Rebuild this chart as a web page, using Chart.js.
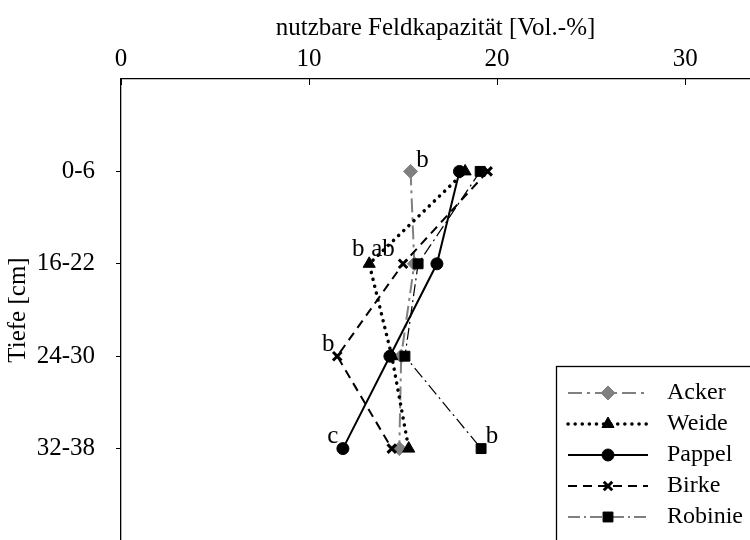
<!DOCTYPE html>
<html>
<head>
<meta charset="utf-8">
<script src="https://cdn.jsdelivr.net/npm/chart.js@4/dist/chart.umd.min.js"></script>
<style>
html,body{margin:0;padding:0;background:#fff;overflow:hidden;}
#wrap{width:750px;height:540px;overflow:hidden;}
</style>
</head>
<body>
<div id="wrap"><canvas id="c" width="750" height="541"></canvas></div>
<script>
// Tiefenstufen (y) und nutzbare Feldkapazität je Nutzung (x)
const DEPTHS = ['0-6','16-22','24-30','32-38'];
const X_TICKS = [0,10,20,30];
const ACKER   = [15.4, 15.6, 14.9, 14.8];
const WEIDE   = [18.3, 13.2, 14.4, 15.3];
const PAPPEL  = [18.0, 16.8, 14.3, 11.8];
const BIRKE   = [19.5, 15.0, 11.5, 14.4];
const ROBINIE = [19.1, 15.8, 15.1, 19.15];
// Signifikanzbuchstaben: [Reihe, Tiefe, Text]
const LETTERS = [
  ['Acker',0,'b'], ['Weide',1,'b'], ['Birke',1,'ab'],
  ['Birke',2,'b'], ['Pappel',3,'c'], ['Robinie',3,'b'],
];

const FONT = 'Liberation Serif, Times New Roman, serif';
Chart.defaults.font.family = FONT;
Chart.defaults.color = '#000';

const pts = arr => arr.map((v,i)=>({x:v,y:i+1}));

function ds(label,data,color,dash,width,style,radius,order,extra) {
  return Object.assign({
    label, data:pts(data), borderColor:color, backgroundColor:color,
    borderDash:dash, borderWidth:width, pointStyle:style, pointRadius:radius,
    pointBackgroundColor:color, pointBorderColor:color, pointBorderWidth:1,
    tension:0, fill:false, order
  }, extra||{});
}

const datasets = [
  ds('Acker',ACKER,'#808080',[14,5,3,5],2,'rectRot',7,5),
  ds('Weide',WEIDE,'#000',[0.1,7],3.5,'triangle',7,4,{borderCapStyle:'round'}),
  ds('Pappel',PAPPEL,'#000',[],2,'circle',6,3),
  ds('Birke',BIRKE,'#000',[9,6],2,'crossRot',6,2,{pointBorderWidth:3}),
  ds('Robinie',ROBINIE,'#000',[12,4,2,4],1.2,'rect',7,1),
];

// Buchstaben, Tickstriche innen an der oberen Achse, Legendenkasten
const offs = {'Acker0':[12,-11],'Weide1':[-11,-14],'Birke1':[-20,-14],'Birke2':[-9,-12],'Pappel3':[-10,-12],'Robinie3':[11,-12]};
const extras = {
  id:'extras',
  afterDraw(chart){
    const ctx=chart.ctx, xs=chart.scales.x, ys=chart.scales.y, a=chart.chartArea;
    ctx.save();
    // ticks an x-Achse nach innen
    ctx.strokeStyle='#000'; ctx.lineWidth=1;
    X_TICKS.forEach(v=>{const px=Math.round(xs.getPixelForValue(v))+0.5;
      ctx.beginPath(); ctx.moveTo(px,a.top); ctx.lineTo(px,a.top+6); ctx.stroke();});
    // Buchstaben
    ctx.font='25px '+FONT; ctx.fillStyle='#000'; ctx.textAlign='center'; ctx.textBaseline='middle';
    LETTERS.forEach(([name,i,t])=>{
      const d=datasets.find(s=>s.label===name); const o=offs[name+i];
      ctx.fillText(t, xs.getPixelForValue(d.data[i].x)+o[0], ys.getPixelForValue(d.data[i].y)+o[1]);
    });
    // Legende
    const lx=556, ly=366;
    ctx.fillStyle='#fff'; ctx.fillRect(lx,ly,200,180);
    ctx.strokeStyle='#000'; ctx.lineWidth=1.3; ctx.strokeRect(lx+0.5,ly+0.5,220,200);
    datasets.forEach((d,i)=>{
      const y=393+i*31;
      ctx.strokeStyle=d.borderColor; ctx.fillStyle=d.borderColor;
      ctx.lineWidth=d.borderWidth; ctx.setLineDash(d.borderDash); ctx.lineCap=d.borderCapStyle||'butt';
      ctx.beginPath(); ctx.moveTo(568,y); ctx.lineTo(648,y); ctx.stroke();
      ctx.setLineDash([]); ctx.lineCap='butt'; ctx.lineWidth=d.pointBorderWidth;
      Chart.helpers.drawPoint(ctx,{pointStyle:d.pointStyle,radius:d.pointRadius,rotation:0,borderWidth:d.pointBorderWidth},608,y);
      ctx.fillStyle='#000'; ctx.font='24px '+FONT; ctx.textAlign='left'; ctx.textBaseline='middle';
      ctx.fillText(d.label,667,y);
    });
    ctx.restore();
  }
};

new Chart(document.getElementById('c'),{
  type:'line',
  data:{datasets},
  plugins:[extras],
  options:{
    responsive:false, animation:false,
    layout:{padding:0,autoPadding:false},
    plugins:{legend:{display:false},tooltip:{enabled:false}},
    scales:{
      x:{type:'linear',position:'top',min:0,max:33.45,
        afterBuildTicks:s=>{s.ticks=X_TICKS.map(v=>({value:v}));},
        afterFit:s=>{s.height=79;s.paddingLeft=0;s.paddingRight=0;},
        grid:{display:false,drawTicks:false},
        border:{display:true,color:'#000',width:1.3},
        ticks:{font:{size:25},padding:5,maxRotation:0},
        title:{display:true,text:'nutzbare Feldkapazität [Vol.-%]',font:{size:25},padding:{top:13,bottom:0}}},
      y:{type:'linear',reverse:true,min:0,max:5,
        afterBuildTicks:s=>{s.ticks=DEPTHS.map((_,i)=>({value:i+1}));},
        afterFit:s=>{s.width=121;s.paddingTop=0;s.paddingBottom=0;},
        grid:{drawOnChartArea:false,drawTicks:true,tickLength:5,color:'#000'},
        border:{display:true,color:'#000',width:1.3},
        ticks:{font:{size:25},padding:21,callback:v=>DEPTHS[v-1]},
        title:{display:true,text:'Tiefe [cm]',font:{size:25},padding:{top:3,bottom:0}}}
    }
  }
});
</script>
</body>
</html>
